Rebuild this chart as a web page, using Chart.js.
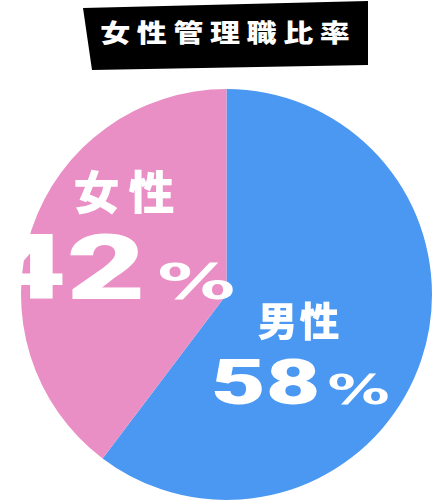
<!DOCTYPE html>
<html>
<head>
<meta charset="utf-8">
<script src="https://cdn.jsdelivr.net/npm/chart.js@4.4.1/dist/chart.umd.min.js"></script>
<style>
  html, body { margin: 0; padding: 0; background: #ffffff; }
  #wrap { position: relative; width: 433px; height: 502px; }
  #title {
    position: absolute; left: 83px; top: 0; width: 285px; height: 70px;
    background: #000000;
    clip-path: polygon(0px 8px, 285px 1px, 285px 65px, 9px 70px);
    color: #ffffff;
    font-family: 'Noto Sans CJK JP', sans-serif; font-weight: 900;
    display: flex; align-items: center; justify-content: center;
    box-sizing: border-box; padding-bottom: 8px;
  }
  #title span {
    display: inline-block; font-size: 25px; letter-spacing: 5.5px;
    transform: scaleX(1.2); padding-left: 5px; white-space: nowrap;
  }
  #chartBox { position: absolute; left: 0; top: 0; width: 433px; height: 502px; }
</style>
</head>
<body>
<div id="wrap">
  <div id="chartBox"><canvas id="chartRatio"></canvas></div>
  <div id="title"><span>女性管理職比率</span></div>
</div>
<script>
// slice sizes as drawn in the picture, printed labels as written on it
const categories = ['男性', '女性'];
const sliceValues = [60.3, 39.7];
const percentLabels = ['58', '42'];
const sliceColors = ['#4b98f2', '#e98fc5'];

const DIGIT_FONT = "'Roboto', sans-serif";
const PCT_FONT = "'DejaVu Sans', sans-serif";
const KANJI_FONT = "'Noto Sans CJK JP', sans-serif";

// label layout per slice (offsets from the pie centre)
const labelStyle = [
  { nameX: 31, nameY: 26, nameSize: 40, pitch: 42, numRight: 94, numY: 109, numSize: 63, pctSize: 40, pctGap: 7 },
  { nameX: -153, nameY: -103, nameSize: 46, pitch: 55, numRight: -81, numY: 4, numSize: 91, pctSize: 50, pctGap: 12 }
];

function drawChars(ctx, text, x, y, pitch) {
  [...text].forEach((ch, i) => ctx.fillText(ch, x + i * pitch, y));
}

const labelPlugin = {
  id: 'sliceLabels',
  afterDatasetsDraw(chart) {
    const { ctx } = chart;
    const arc = chart.getDatasetMeta(0).data[0];
    const cx = arc.x;
    const cy = arc.y;

    ctx.save();
    ctx.fillStyle = '#ffffff';

    categories.forEach((name, i) => {
      const s = labelStyle[i];

      ctx.font = `900 ${s.nameSize}px ${KANJI_FONT}`;
      ctx.textAlign = 'left';
      ctx.textBaseline = 'middle';
      drawChars(ctx, name, cx + s.nameX, cy + s.nameY, s.pitch);

      ctx.textBaseline = 'alphabetic';
      ctx.save();
      ctx.translate(cx + s.numRight, cy + s.numY);
      ctx.scale(1.5, 1);
      ctx.font = `900 ${s.numSize}px ${DIGIT_FONT}`;
      ctx.textAlign = 'right';
      ctx.fillText(percentLabels[i], 0, 0);
      ctx.restore();

      ctx.save();
      ctx.translate(cx + s.numRight + s.pctGap, cy + s.numY);
      ctx.scale(1.55, 1);
      ctx.font = `700 ${s.pctSize}px ${PCT_FONT}`;
      ctx.textAlign = 'left';
      ctx.fillText('%', 0, 0);
      ctx.restore();
    });

    ctx.restore();
  }
};

new Chart(document.getElementById('chartRatio'), {
  type: 'pie',
  data: {
    labels: categories,
    datasets: [{
      data: sliceValues,
      backgroundColor: sliceColors,
      borderWidth: 0
    }]
  },
  options: {
    responsive: true,
    maintainAspectRatio: false,
    animation: false,
    layout: { padding: { top: 89, left: 21, right: 1, bottom: 2 } },
    plugins: {
      legend: { display: false },
      tooltip: { enabled: false }
    }
  },
  plugins: [labelPlugin]
});
</script>
</body>
</html>
